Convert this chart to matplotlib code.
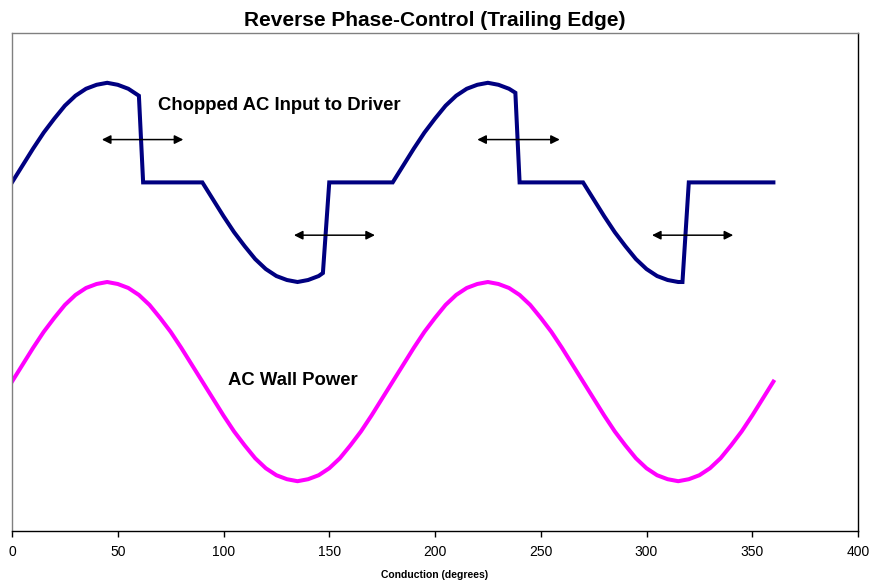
import matplotlib
matplotlib.use("Agg")
import matplotlib.pyplot as plt

# --- data ---
wall_deg = [0, 5, 10, 15, 20, 25, 30, 35, 40, 45, 50, 55, 60, 65, 70, 75, 80, 85,
            90, 95, 100, 105, 110, 115, 120, 125, 130, 135, 140, 145, 150, 155, 160, 165, 170, 175,
            180, 185, 190, 195, 200, 205, 210, 215, 220, 225, 230, 235, 240, 245, 250, 255, 260, 265,
            270, 275, 280, 285, 290, 295, 300, 305, 310, 315, 320, 325, 330, 335, 340, 345, 350, 355,
            360]
wall_val = [0.00, 0.17, 0.34, 0.50, 0.64, 0.77, 0.87, 0.94, 0.98, 1.00, 0.98, 0.94, 0.87, 0.77, 0.64, 0.50, 0.34, 0.17,
            0.00, -0.17, -0.34, -0.50, -0.64, -0.77, -0.87, -0.94, -0.98, -1.00, -0.98, -0.94, -0.87, -0.77, -0.64, -0.50, -0.34, -0.17,
            0.00, 0.17, 0.34, 0.50, 0.64, 0.77, 0.87, 0.94, 0.98, 1.00, 0.98, 0.94, 0.87, 0.77, 0.64, 0.50, 0.34, 0.17,
            0.00, -0.17, -0.34, -0.50, -0.64, -0.77, -0.87, -0.94, -0.98, -1.00, -0.98, -0.94, -0.87, -0.77, -0.64, -0.50, -0.34, -0.17,
            0.00]

chop_deg = [0, 5, 10, 15, 20, 25, 30, 35, 40, 45, 50, 55, 60, 62,
            90, 95, 100, 105, 110, 115, 120, 125, 130, 135, 140, 145, 147, 150,
            180, 185, 190, 195, 200, 205, 210, 215, 220, 225, 230, 235, 238, 240,
            270, 275, 280, 285, 290, 295, 300, 305, 310, 315, 317, 320,
            360]
chop_val = [2.00, 2.17, 2.34, 2.50, 2.64, 2.77, 2.87, 2.94, 2.98, 3.00, 2.98, 2.94, 2.87, 2.00,
            2.00, 1.83, 1.66, 1.50, 1.36, 1.23, 1.13, 1.06, 1.02, 1.00, 1.02, 1.06, 1.09, 2.00,
            2.00, 2.17, 2.34, 2.50, 2.64, 2.77, 2.87, 2.94, 2.98, 3.00, 2.98, 2.94, 2.90, 2.00,
            2.00, 1.83, 1.66, 1.50, 1.36, 1.23, 1.13, 1.06, 1.02, 1.00, 1.00, 2.00,
            2.00]

# double-headed arrows: (x_start, x_end, y)
arrows = [(42.5, 81.0, 2.43), (133.3, 171.6, 1.47),
          (220.0, 259.0, 2.43), (302.6, 341.0, 1.47)]

x_ticks = [0, 50, 100, 150, 200, 250, 300, 350, 400]

plt.rcParams["font.family"] = ["Liberation Sans", "DejaVu Sans"]

fig = plt.figure(figsize=(8.69, 5.84), dpi=100)
ax = fig.add_axes([12 / 869, 53 / 584, 846 / 869, 498 / 584])

ax.plot(wall_deg, wall_val, color="#ff00ff", lw=2.9, solid_joinstyle="round")
ax.plot(chop_deg, chop_val, color="#000080", lw=2.9, solid_joinstyle="miter")

for x0, x1, y in arrows:
    ax.annotate("", xy=(x0, y), xytext=(x1, y),
                arrowprops=dict(arrowstyle="<|-|>", color="black", lw=1.1,
                                mutation_scale=13, shrinkA=0, shrinkB=0))

ax.text(69, 2.77, "Chopped AC Input to Driver", fontsize=13.3, fontweight="bold",
        va="center", ha="left")
ax.text(102, 0.01, "AC Wall Power", fontsize=13.3, fontweight="bold",
        va="center", ha="left")

ax.set_xlim(0, 400)
ax.set_ylim(-1.5, 3.5)
ax.set_xticks(x_ticks)
ax.set_xticklabels([str(t) for t in x_ticks], fontsize=10)
ax.set_yticks([])
ax.tick_params(axis="x", length=4, width=1, direction="out", pad=6)

for side in ("top", "left"):
    ax.spines[side].set_color("#808080")
ax.spines["right"].set_color("black")
ax.spines["bottom"].set_color("black")
for s in ax.spines.values():
    s.set_linewidth(1.0)

ax.set_title("Reverse Phase-Control (Trailing Edge)", fontsize=15,
             fontweight="bold", pad=5)
ax.set_xlabel("Conduction (degrees)", fontsize=7.5, fontweight="bold", labelpad=8)

fig.savefig("out.png", dpi=100)
